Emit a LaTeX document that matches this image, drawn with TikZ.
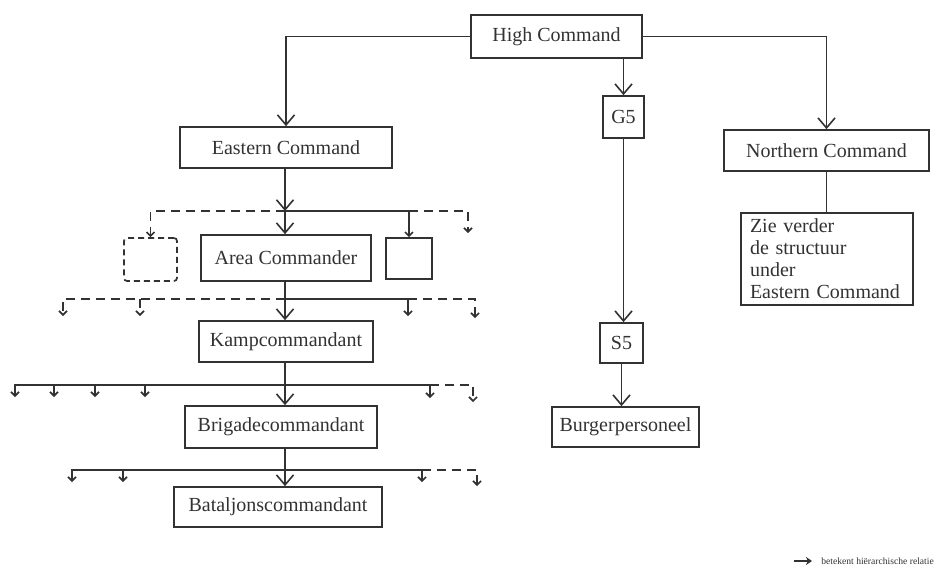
\documentclass[tikz,border=0pt]{standalone}
\usepackage{fontspec}
\setmainfont{Liberation Serif}
\usetikzlibrary{arrows.meta}
\definecolor{ink}{RGB}{50,50,50}
\begin{document}
\begin{tikzpicture}[x=1pt,y=-1pt,
  every node/.style={font=\fontsize{20}{22}\selectfont, text=ink},
  box/.style={draw=ink, line width=1.7pt, inner sep=0pt, minimum height=42pt},
  ln/.style={draw=ink, line width=1.6pt},
  arr/.style={ln, -{Straight Barb[length=10pt,width=17pt,line width=1.6pt]}},
  sarr/.style={ln, -{Straight Barb[length=4pt,width=8pt,line width=1.6pt]}},
  dsh/.style={dash pattern=on 9pt off 6pt}]
\useasboundingbox (0,0) rectangle (937,582);

% nodes
\node[box, minimum width=171pt, minimum height=43pt] (HC) at (556.5,36.5) {High Command};
\node[box, minimum width=41pt] (G5) at (623.5,117) {G5};
\node[box, minimum width=212pt, minimum height=41pt] (EC) at (286,147.5) {Eastern Command};
\node[box, minimum width=205pt, minimum height=41pt] (NC) at (826.5,150.5) {Northern Command};
\node[box, minimum width=172pt, minimum height=92pt, inner xsep=9pt, text width=154pt, align=left] (ZV) at (827,259)
  {Zie verder\\de structuur\\under\\Eastern Command};
\node[box, minimum width=53pt, minimum height=43pt, dash pattern=on 6pt off 4pt, rounded corners=3pt] (D1) at (150.5,259.5) {};
\node[box, minimum width=170pt, minimum height=46pt] (AC) at (286,258) {Area Commander};
\node[box, minimum width=46pt, minimum height=41pt] (B1) at (409,258.5) {};
\node[box, minimum width=174pt, minimum height=41pt] (KC) at (286,341.5) {Kampcommandant};
\node[box, minimum width=192pt, minimum height=42pt] (BC) at (281,427) {Brigadecommandant};
\node[box, minimum width=208pt, minimum height=40pt] (BJ) at (278,507) {Bataljonscommandant};
\node[box, minimum width=43pt, minimum height=40pt] (S5) at (621.5,343) {S5};
\node[box, minimum width=147pt, minimum height=40pt] (BP) at (625.5,427) {Burgerpersoneel};

% top connectors
\draw[arr] (HC.west) -| (EC.north);
\draw[arr] (HC.east) -| (NC.north);
\draw[arr] (HC.south -| G5.north) -- (G5.north);
\draw[arr] (G5.south) -- (G5.south |- S5.north);
\draw[arr] (S5.south) -- (S5.south |- BP.north);
\draw[ln] (NC.south) -- (NC.south |- ZV.north);

% level 1
\coordinate (j1) at (285,211);
\draw[arr] (EC.south -| j1) -- (j1);
\draw[arr] (j1) -- (j1 |- AC.north);
\draw[sarr,dsh] (j1) -| (D1.north);
\draw[sarr] (j1) -| (B1.north);
\coordinate (e1) at (468,233);
\draw[sarr,dsh] (B1.north |- j1) -| (e1);

% level 2
\coordinate (j2) at (285,299);
\draw[ln] (AC.south -| j2) -- (j2);
\draw[arr] (j2) -- (j2 |- KC.north);
\coordinate (e2a) at (63,316);
\coordinate (e2b) at (140,316);
\coordinate (e2c) at (408,316);
\coordinate (e2d) at (475,318);
\draw[sarr,dsh] (j2) -| (e2a);
\draw[sarr,dsh] (e2b |- j2) -- (e2b);
\draw[sarr] (j2) -| (e2c);
\draw[sarr,dsh] (e2c |- j2) -| (e2d);

% level 3
\coordinate (j3) at (285,385);
\draw[ln] (KC.south -| j3) -- (j3);
\draw[arr] (j3) -- (j3 |- BC.north);
\coordinate (e3a) at (15,397);
\coordinate (e3b) at (54,397);
\coordinate (e3c) at (95,397);
\coordinate (e3d) at (145,397);
\coordinate (e3e) at (430,398);
\coordinate (e3f) at (473,402);
\draw[sarr] (j3) -| (e3a);
\draw[sarr] (e3b |- j3) -- (e3b);
\draw[sarr] (e3c |- j3) -- (e3c);
\draw[sarr] (e3d |- j3) -- (e3d);
\draw[sarr] (j3) -| (e3e);
\draw[sarr,dsh] (e3e |- j3) -| (e3f);

% level 4
\coordinate (j4) at (285,470);
\draw[ln] (BC.south -| j4) -- (j4);
\draw[arr] (j4) -- (j4 |- BJ.north);
\coordinate (e4a) at (72,482);
\coordinate (e4b) at (123,482);
\coordinate (e4c) at (422,482);
\coordinate (e4d) at (477,486);
\draw[sarr] (j4) -| (e4a);
\draw[sarr] (e4b |- j4) -- (e4b);
\draw[sarr] (j4) -| (e4c);
\draw[sarr,dsh] (e4c |- j4) -| (e4d);

% legend
\coordinate (lg1) at (794,561);
\coordinate (lg2) at (812,561);
\draw[ln, -{Stealth[length=6pt,width=8pt]}] (lg1) -- (lg2);
\node[anchor=east, font=\fontsize{9.6}{12}\selectfont, inner sep=0pt] (lgt) at (934,561) {betekent hiërarchische relatie};
\end{tikzpicture}
\end{document}
